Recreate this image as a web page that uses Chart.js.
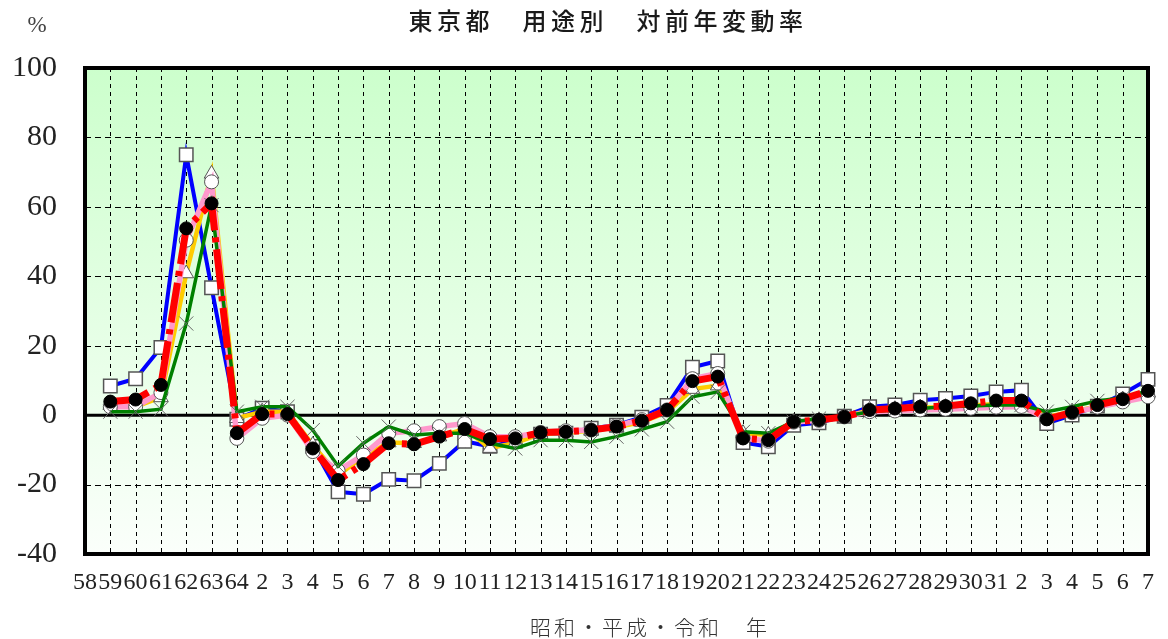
<!DOCTYPE html>
<html>
<head>
<meta charset="utf-8">
<script src="https://cdn.jsdelivr.net/npm/chart.js@4/dist/chart.umd.min.js"></script>
<style>
html,body{margin:0;padding:0;background:#fff;}
canvas{display:block;}
</style>
</head>
<body>
<canvas id="c" width="1168" height="639"></canvas>
<script>
// Categories: 昭和58〜64, 平成2〜31, 令和2〜7
const categories = ['58','59','60','61','62','63','64',
  '2','3','4','5','6','7','8','9','10','11','12','13','14','15','16','17','18','19','20',
  '21','22','23','24','25','26','27','28','29','30','31',
  '2','3','4','5','6','7'];

const yTicks = {min: -40, max: 100, step: 20};

// Series (値は図から読み取り)
const seriesBlue = [null, 8.4, 10.5, 19.5, 75.0, 36.7, -1.2, 2.0, 1.0, -9.0, -22.1,
  -22.8, -18.5, -18.9, -13.9, -7.5, -9.0, -7.5, -5.5, -5.2, -3.8,
  -2.9, -0.6, 2.8, 13.8, 15.6, -7.9, -9.1, -2.9, -2.2, -0.3,
  2.4, 2.9, 4.3, 4.8, 5.5, 6.7, 7.2, -2.4, 0.0, 2.6,
  6.1, 10.3];
const seriesYellow = [null, 2.9, 2.4, 5.1, 40.8, 69.5, -0.9, 1.0, 1.0, -8.6, -17.3,
  -12.0, -7.9, -8.1, -6.2, -4.0, -9.5, -8.0, -5.5, -5.0, -4.5,
  -3.5, -2.0, 0.8, 7.5, 8.5, -5.2, -5.7, -2.0, -1.5, -0.5,
  1.5, 1.7, 2.2, 2.3, 2.8, 3.2, 3.0, -0.5, 1.0, 2.5,
  4.5, 6.5];
const seriesPink = [null, 2.4, 2.4, 6.5, 50.4, 67.2, -6.7, -0.9, 0.0, -10.5, -16.0,
  -11.5, -5.2, -4.5, -3.3, -2.4, -6.2, -6.2, -5.0, -4.5, -4.3,
  -3.0, -1.3, 1.5, 10.5, 12.0, -6.5, -7.5, -2.0, -1.5, -0.5,
  1.0, 1.2, 1.5, 1.7, 2.0, 2.3, 2.5, -1.0, 0.7, 2.3,
  3.8, 5.3];
const seriesGreen = [null, 1.0, 1.0, 1.7, 26.4, 60.5, 1.0, 2.4, 2.4, -4.3, -14.7,
  -8.1, -3.3, -5.7, -5.2, -5.2, -8.1, -9.6, -7.2, -7.2, -7.7,
  -6.2, -4.1, -1.9, 5.3, 6.7, -4.8, -5.2, -1.9, -1.0, -0.3,
  1.0, 1.5, 1.9, 2.4, 2.6, 2.9, 2.9, 1.0, 2.4, 4.1,
  5.0, 7.0];
const seriesRed = [null, 3.9, 4.5, 8.7, 53.8, 61.0, -5.2, 0.3, 0.3, -9.6, -18.7,
  -14.1, -8.1, -8.4, -6.2, -4.0, -6.9, -6.7, -5.0, -4.8, -4.3,
  -3.3, -1.6, 1.5, 9.8, 11.1, -6.7, -7.2, -1.9, -1.4, -0.5,
  1.5, 1.9, 2.4, 2.6, 3.4, 4.2, 4.2, -1.2, 0.8, 2.9,
  4.6, 7.0];

const titleText = '東京都　用途別　対前年変動率';
const xTitleText = '昭和・平成・令和　年';
const unitText = '%';

const decor = {
  id: 'decor',
  beforeDraw(chart) {
    const {ctx, chartArea: a} = chart;
    ctx.save();
    const g = ctx.createLinearGradient(0, a.top, 0, a.bottom);
    g.addColorStop(0, '#ccffcc');
    g.addColorStop(1, '#fbfffb');
    ctx.fillStyle = g;
    ctx.fillRect(a.left, a.top, a.width, a.height);
    ctx.restore();
  },
  beforeDatasetsDraw(chart) {
    const {ctx, chartArea: a, scales: {x, y}} = chart;
    ctx.save();
    ctx.strokeStyle = '#000';
    ctx.lineWidth = 1;
    ctx.setLineDash([4, 4]);
    for (let i = 1; i < categories.length - 1; i++) {
      const px = Math.round(x.getPixelForValue(i)) + 0.5;
      ctx.beginPath(); ctx.moveTo(px, a.top); ctx.lineTo(px, a.bottom); ctx.stroke();
    }
    ctx.setLineDash([6, 4]);
    for (let v = yTicks.min + yTicks.step; v < yTicks.max; v += yTicks.step) {
      if (v === 0) continue;
      const py = Math.round(y.getPixelForValue(v)) + 0.5;
      ctx.beginPath(); ctx.moveTo(a.left, py); ctx.lineTo(a.right, py); ctx.stroke();
    }
    ctx.setLineDash([]);
    ctx.lineWidth = 3;
    const zy = y.getPixelForValue(0);
    ctx.beginPath(); ctx.moveTo(a.left, zy); ctx.lineTo(a.right, zy); ctx.stroke();
    ctx.lineWidth = 4;
    ctx.strokeRect(a.left, a.top, a.width, a.height);
    ctx.restore();
  },
  afterDraw(chart) {
    const {ctx} = chart;
    ctx.save();
    ctx.textBaseline = 'middle';
    ctx.textAlign = 'center';
    ctx.fillStyle = '#1a1a1a';
    ctx.font = '500 24px "Noto Sans CJK JP"';
    ctx.letterSpacing = '4.5px';
    ctx.fillText(titleText, 608, 21);
    ctx.fillStyle = '#333';
    ctx.font = '300 21px "Noto Sans CJK JP"';
    ctx.letterSpacing = '3px';
    ctx.fillText(xTitleText, 650, 627);
    ctx.letterSpacing = '0px';
    ctx.font = '23px "Liberation Serif"';
    ctx.fillStyle = '#444';
    ctx.fillText(unitText, 37, 26);
    ctx.restore();
  }
};

new Chart(document.getElementById('c'), {
  type: 'line',
  data: {
    labels: categories,
    datasets: [
      {label: '全用途', data: seriesRed, borderColor: '#ff0000', borderWidth: 7,
        borderDash: [40, 7, 5, 7], borderCapStyle: 'butt',
        pointStyle: 'circle', pointRadius: 6.5, pointBackgroundColor: '#000', pointBorderColor: '#000', pointBorderWidth: 1, clip: false},
      {label: '工業地', data: seriesGreen, borderColor: '#008000', borderWidth: 3.5,
        pointStyle: 'crossRot', pointRadius: 10, pointBorderColor: '#666', pointBorderWidth: 1, clip: false},
      {label: '住宅地', data: seriesPink, borderColor: '#ff99cc', borderWidth: 5.5,
        pointStyle: 'circle', pointRadius: 7, pointBackgroundColor: '#fff', pointBorderColor: '#555', pointBorderWidth: 1, clip: false},
      {label: '宅地見込地', data: seriesYellow, borderColor: '#ffcc00', borderWidth: 4.5,
        pointStyle: 'triangle', pointRadius: 8.5, pointBackgroundColor: '#fff', pointBorderColor: '#555', pointBorderWidth: 1, clip: false},
      {label: '商業地', data: seriesBlue, borderColor: '#0000ff', borderWidth: 4,
        pointStyle: 'rect', pointRadius: 9.5, pointBackgroundColor: '#fff', pointBorderColor: '#555', pointBorderWidth: 1.5, clip: false}
    ]
  },
  options: {
    responsive: false,
    animation: false,
    devicePixelRatio: 1,
    layout: {padding: {top: 68, right: 14, left: 0, bottom: 0}},
    plugins: {legend: {display: false}, title: {display: false}, tooltip: {enabled: false}},
    elements: {line: {tension: 0}},
    scales: {
      x: {
        type: 'category', offset: false,
        grid: {display: false, drawTicks: false},
        border: {display: false},
        ticks: {autoSkip: false, maxRotation: 0, minRotation: 0, padding: 14, color: '#222',
          font: {family: 'Liberation Serif', size: 24}},
        afterFit(s) { s.height = 85; }
      },
      y: {
        min: yTicks.min, max: yTicks.max,
        grid: {display: false, drawTicks: false},
        border: {display: false},
        ticks: {stepSize: yTicks.step, padding: 28, color: '#222',
          font: {family: 'Liberation Serif', size: 30}},
        afterFit(s) { s.width = 85; }
      }
    }
  },
  plugins: [decor]
});
</script>
</body>
</html>
